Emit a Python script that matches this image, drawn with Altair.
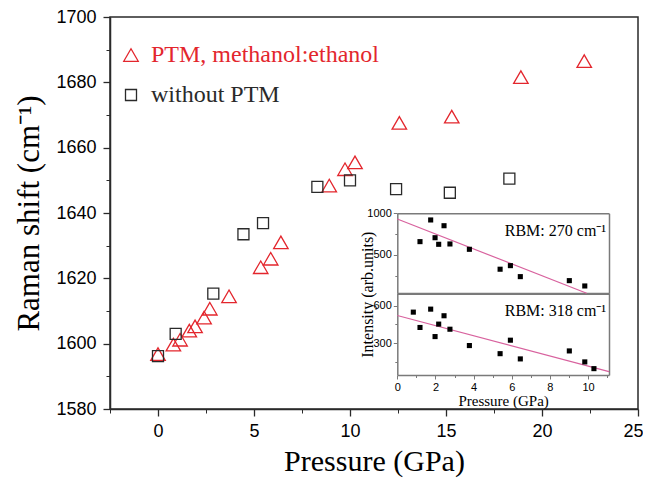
import altair as alt
import pandas as pd

# ---------------- data ----------------
series_names = ["PTM, methanol:ethanol", "without PTM"]
ptm_pressure = [0.0, 0.8, 1.15, 1.63, 1.93, 2.4, 2.7, 3.7, 5.35, 5.87, 6.4,
                8.92, 9.74, 10.26, 12.57, 15.3, 18.9, 22.2]
ptm_shift = [1596.8, 1599.7, 1601.2, 1604.0, 1605.3, 1608.0, 1610.7, 1614.5,
             1623.4, 1626.0, 1631.0, 1648.4, 1653.4, 1655.5, 1667.6, 1669.5,
             1681.6, 1686.5]
bare_pressure = [0.0, 0.92, 2.88, 4.45, 5.47, 8.3, 10.0, 12.4, 15.2, 18.3]
bare_shift = [1596.2, 1603.0, 1615.3, 1633.5, 1636.9, 1648.0, 1650.0, 1647.3,
              1646.2, 1650.5]

rbm270_pressure = [1.19, 1.75, 1.98, 2.17, 2.45, 2.76, 3.78, 5.39, 5.93, 6.45, 9.02, 9.83]
rbm270_intensity = [660, 920, 707, 628, 851, 632, 568, 329, 372, 240, 192, 128]
rbm318_pressure = [0.84, 1.19, 1.75, 1.98, 2.17, 2.45, 2.76, 3.78, 5.39, 5.93,
                   6.45, 9.02, 9.83, 10.31]
rbm318_intensity = [549, 426, 573, 353, 453, 520, 412, 281, 216, 324, 174, 238, 150, 96]
fit270_pressure = [0.0, 9.93]
fit270_intensity = [932, 40]
fit318_pressure = [0.0, 11.1]
fit318_intensity = [522, 72]
rbm_labels = ["RBM: 270 cm\u207b\u00b9", "RBM: 318 cm\u207b\u00b9"]
rbm_label_pressure = [10.95, 10.95]
rbm_label_intensity = [788, 560]

main_x_major = [0, 5, 10, 15, 20, 25]
main_x_minor = [-2.5, 2.5, 7.5, 12.5, 17.5, 22.5]
main_y_major = [1580, 1600, 1620, 1640, 1660, 1680, 1700]
main_y_minor = [1590, 1610, 1630, 1650, 1670, 1690]
inset_x_major = [0, 2, 4, 6, 8, 10]
inset_x_minor = [1, 3, 5, 7, 9, 11]
top_y_major = [500, 1000]
top_y_minor = [250, 750]
bot_y_major = [300, 600]
bot_y_minor = [150, 450]

# ---------------- layout / style ----------------
PAD_L, PAD_T = 102, 9
W, H = 528, 392
ORIGIN_X, ORIGIN_Y = 8 + PAD_L, 8 + PAD_T   # plot origin on the page
RED = "#e3262d"
DARK = "#2a2a2a"
PINK = "#d8629e"
GRAY = "#7a7a7a"
SERIF = "Liberation Serif"
SANS = "Liberation Sans"

# inset panel edges (page pixels -> plot pixels)
IN_X0, IN_X1 = 397.3 - ORIGIN_X, 609.0 - ORIGIN_X
TOP_Y0, TOP_Y1 = 293.3 - ORIGIN_Y, 213.3 - ORIGIN_Y
BOT_Y0, BOT_Y1 = 375.0 - ORIGIN_Y, 293.3 - ORIGIN_Y

main_df = pd.DataFrame({
    "P": ptm_pressure + bare_pressure,
    "shift": ptm_shift + bare_shift,
    "series": [series_names[0]] * len(ptm_pressure) + [series_names[1]] * len(bare_pressure),
})
top_df = pd.DataFrame({"P": rbm270_pressure, "I": rbm270_intensity})
bot_df = pd.DataFrame({"P": rbm318_pressure, "I": rbm318_intensity})
fit_top_df = pd.DataFrame({"P": fit270_pressure, "I": fit270_intensity})
fit_bot_df = pd.DataFrame({"P": fit318_pressure, "I": fit318_intensity})
lab_top_df = pd.DataFrame({"P": rbm_label_pressure[:1], "I": rbm_label_intensity[:1], "t": rbm_labels[:1]})
lab_bot_df = pd.DataFrame({"P": rbm_label_pressure[1:], "I": rbm_label_intensity[1:], "t": rbm_labels[1:]})


def xs_main():
    return alt.Scale(domain=[-2.5, 25], nice=False, zero=False)


def ys_main():
    return alt.Scale(domain=[1580, 1700], nice=False, zero=False)


def xs_in():
    return alt.Scale(domain=[0, 11.1], range=[IN_X0, IN_X1], nice=False, zero=False)


def ys_top():
    return alt.Scale(domain=[40, 1000], range=[TOP_Y0, TOP_Y1], nice=False, zero=False)


def ys_bot():
    return alt.Scale(domain=[45, 700], range=[BOT_Y0, BOT_Y1], nice=False, zero=False)


def bare_axis(orient, offset=0, domain=True, values=None, tick=0, color=GRAY, width=1.5):
    kw = dict(orient=orient, offset=offset, labels=False, title=None, grid=False,
              domain=domain, domainColor=color, domainWidth=width,
              ticks=tick > 0, tickColor=color, tickSize=max(tick, 1), tickWidth=1)
    if values is not None:
        kw["values"] = values
    return alt.Axis(**kw)


legend = alt.Legend(
    title=None, orient="none", legendX=9, legendY=26, padding=0,
    labelFont=SERIF, labelFontSize=24, labelLimit=400, labelOffset=8,
    labelColor=alt.ExprRef(expr=f"datum.label == '{series_names[1]}' ? '{DARK}' : '{RED}'"),
    rowPadding=16, symbolStrokeWidth=1.3,
)

main_points = alt.Chart(main_df).mark_point(filled=False, strokeWidth=1.3, opacity=1).encode(
    x=alt.X("P:Q", scale=xs_main(), axis=alt.Axis(
        orient="bottom", values=main_x_major, format="d", title="Pressure (GPa)",
        labelFont=SANS, labelFontSize=18, labelColor="black", labelPadding=6,
        labelFlush=True, labelFlushOffset=5, labelOverlap=False,
        titleFont=SERIF, titleFontSize=30, titleFontWeight="normal", titleColor="black",
        titlePadding=6, tickSize=7, tickColor=DARK, tickWidth=1.3,
        domainColor=DARK, domainWidth=1.5, grid=False)),
    y=alt.Y("shift:Q", scale=ys_main(), axis=alt.Axis(
        orient="left", values=main_y_major, format="d", title="Raman shift (cm\u207b\u00b9)",
        labelFont=SANS, labelFontSize=18, labelColor="black", labelPadding=7,
        labelFlush=False, labelOverlap=False,
        titleFont=SERIF, titleFontSize=31, titleFontWeight="normal", titleColor="black",
        titlePadding=10, tickSize=7, tickColor=DARK, tickWidth=1.3,
        domainColor=DARK, domainWidth=1.5, grid=False)),
    color=alt.Color("series:N", scale=alt.Scale(domain=series_names, range=[RED, DARK]), legend=legend),
    shape=alt.Shape("series:N", scale=alt.Scale(domain=series_names, range=["triangle-up", "square"]), legend=legend),
    size=alt.Size("series:N", scale=alt.Scale(domain=series_names, range=[210, 121]), legend=legend),
)

main_minor = alt.Chart(main_df).mark_point(opacity=0).encode(
    x=alt.X("P:Q", scale=xs_main(), axis=bare_axis("bottom", domain=False, values=main_x_minor, tick=4, color=DARK)),
    y=alt.Y("shift:Q", scale=ys_main(), axis=bare_axis("left", domain=False, values=main_y_minor, tick=4, color=DARK)),
)

inset_label_style = dict(labelFont=SANS, labelFontSize=11, labelColor="black", labelPadding=2,
                         labelFlush=False, labelOverlap=False, grid=False, format="d")

top_points = alt.Chart(top_df).mark_square(size=26, color="black", opacity=1).encode(
    x=alt.X("P:Q", scale=xs_in(), axis=bare_axis("bottom", offset=-(H - TOP_Y0), width=2.2)),
    y=alt.Y("I:Q", scale=ys_top(), axis=alt.Axis(
        orient="left", offset=-IN_X0, values=top_y_major, tickSize=4, tickColor=GRAY,
        domainColor=GRAY, domainWidth=1.5,
        title="Intensity (arb.units)", titleFont=SERIF, titleFontSize=16,
        titleFontWeight="normal", titleColor="black", titleAngle=270,
        titleBaseline="middle", titleAlign="center", titleX=-30, titleY=(TOP_Y1 + BOT_Y0) / 2,
        **inset_label_style)),
)
top_frame = alt.Chart(top_df).mark_point(opacity=0).encode(
    x=alt.X("P:Q", scale=xs_in(), axis=bare_axis("top", offset=-TOP_Y1)),
    y=alt.Y("I:Q", scale=ys_top(), axis=bare_axis("right", offset=-(W - IN_X1))),
)
top_minor = alt.Chart(top_df).mark_point(opacity=0).encode(
    x=alt.X("P:Q", scale=xs_in(), axis=None),
    y=alt.Y("I:Q", scale=ys_top(), axis=bare_axis("left", offset=-IN_X0, domain=False, values=top_y_minor, tick=2.5)),
)
top_fit = alt.Chart(fit_top_df).mark_line(color=PINK, strokeWidth=1.2).encode(
    x=alt.X("P:Q", scale=xs_in(), axis=None),
    y=alt.Y("I:Q", scale=ys_top(), axis=None),
)
top_label = alt.Chart(lab_top_df).mark_text(align="right", baseline="middle", font=SERIF,
                                            fontSize=16, color="black").encode(
    x=alt.X("P:Q", scale=xs_in(), axis=None),
    y=alt.Y("I:Q", scale=ys_top(), axis=None),
    text="t:N",
)

bot_points = alt.Chart(bot_df).mark_square(size=26, color="black", opacity=1).encode(
    x=alt.X("P:Q", scale=xs_in(), axis=alt.Axis(
        orient="bottom", offset=-(H - BOT_Y0), values=inset_x_major, tickSize=4,
        tickColor=GRAY, domainColor=GRAY, domainWidth=1.5,
        title="Pressure (GPa)", titleFont=SERIF, titleFontSize=15, titleFontWeight="normal",
        titleColor="black", titlePadding=1, **inset_label_style)),
    y=alt.Y("I:Q", scale=ys_bot(), axis=alt.Axis(
        orient="left", offset=-IN_X0, values=bot_y_major, tickSize=4, tickColor=GRAY,
        domainColor=GRAY, domainWidth=1.5, title=None, **inset_label_style)),
)
bot_frame = alt.Chart(bot_df).mark_point(opacity=0).encode(
    x=alt.X("P:Q", scale=xs_in(), axis=bare_axis("bottom", offset=-(H - BOT_Y0), domain=False, values=inset_x_minor, tick=2.5)),
    y=alt.Y("I:Q", scale=ys_bot(), axis=bare_axis("right", offset=-(W - IN_X1))),
)
bot_minor = alt.Chart(bot_df).mark_point(opacity=0).encode(
    x=alt.X("P:Q", scale=xs_in(), axis=None),
    y=alt.Y("I:Q", scale=ys_bot(), axis=bare_axis("left", offset=-IN_X0, domain=False, values=bot_y_minor, tick=2.5)),
)
bot_fit = alt.Chart(fit_bot_df).mark_line(color=PINK, strokeWidth=1.2).encode(
    x=alt.X("P:Q", scale=xs_in(), axis=None),
    y=alt.Y("I:Q", scale=ys_bot(), axis=None),
)
bot_label = alt.Chart(lab_bot_df).mark_text(align="right", baseline="middle", font=SERIF,
                                            fontSize=16, color="black").encode(
    x=alt.X("P:Q", scale=xs_in(), axis=None),
    y=alt.Y("I:Q", scale=ys_bot(), axis=None),
    text="t:N",
)

chart = alt.layer(
    main_minor, main_points,
    top_fit, top_minor, top_frame, top_points, top_label,
    bot_fit, bot_minor, bot_frame, bot_points, bot_label,
).resolve_scale(
    x="independent", y="independent"
).resolve_axis(
    x="independent", y="independent"
).properties(
    width=W, height=H,
    padding={"left": PAD_L, "top": PAD_T, "right": 5, "bottom": 70},
    autosize=alt.AutoSizeParams(type="none"),
    background="white",
).configure_view(
    stroke=DARK, strokeWidth=1.5
)

chart.save("out.html", embed_options={"renderer": "svg", "actions": False})
